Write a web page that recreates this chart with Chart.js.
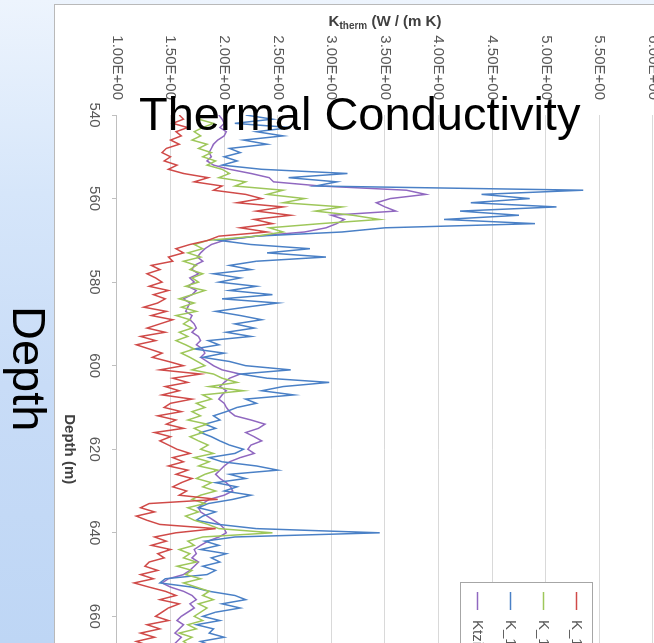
<!DOCTYPE html>
<html>
<head>
<meta charset="utf-8">
<title>Thermal Conductivity</title>
<script src="https://cdn.jsdelivr.net/npm/chart.js@4.4.1/dist/chart.umd.min.js"></script>
<style>
    html, body { margin: 0; padding: 0; }
    body {
        width: 654px; height: 643px; overflow: hidden; position: relative;
        background: linear-gradient(180deg, #edf4fd 0%, #d6e6fa 30%, #c8dcf7 60%, #bed6f5 100%);
        font-family: "Liberation Sans", Arial, sans-serif;
    }
    #panel {
        position: absolute; left: 54px; top: 4px; width: 820px; height: 820px;
        background: #fff; border: 1px solid #b9b9b9;
    }
    /* the Excel chart was pasted rotated a quarter turn clockwise */
    #rot {
        position: absolute; left: 55px; top: 5px; width: 800px; height: 640px;
        transform-origin: 0 0; transform: translate(640px, 0) rotate(90deg);
    }
    .slide-text { position: absolute; font-size: 47px; line-height: 47px; color: #000; white-space: nowrap; }
    #slideTitle { left: 139px; top: 90px; }
    #slideDepth { left: 53px; top: 306px; transform-origin: 0 0; transform: rotate(90deg); }
</style>
</head>
<body>
<div id="panel"></div>
<div id="rot"><canvas id="kChart" width="800" height="640"></canvas></div>
<div class="slide-text" id="slideTitle">Thermal Conductivity</div>
<div class="slide-text" id="slideDepth">Depth</div>

<script>
// Depth (m), one reading per metre
const depths = [
    540, 541, 542, 543, 544, 545, 546, 547, 548, 549,
    550, 551, 552, 553, 554, 555, 556, 557, 558, 559,
    560, 561, 562, 563, 564, 565, 566, 567, 568, 569,
    570, 571, 572, 573, 574, 575, 576, 577, 578, 579,
    580, 581, 582, 583, 584, 585, 586, 587, 588, 589,
    590, 591, 592, 593, 594, 595, 596, 597, 598, 599,
    600, 601, 602, 603, 604, 605, 606, 607, 608, 609,
    610, 611, 612, 613, 614, 615, 616, 617, 618, 619,
    620, 621, 622, 623, 624, 625, 626, 627, 628, 629,
    630, 631, 632, 633, 634, 635, 636, 637, 638, 639,
    640, 641, 642, 643, 644, 645, 646, 647, 648, 649,
    650, 651, 652, 653, 654, 655, 656, 657, 658, 659,
    660, 661, 662, 663, 664, 665, 666, 667, 668
];

// K_therm (W / (m K)) per series
const kRed = [
    1.58, 1.62, 1.52, 1.66, 1.55, 1.60, 1.50, 1.58, 1.46, 1.42,
    1.50, 1.44, 1.56, 1.48, 1.62, 1.85, 1.72, 1.98, 1.90, 2.20,
    2.35, 2.12, 2.55, 2.30, 2.62, 2.28, 2.45, 2.15, 2.40, 1.95,
    1.85, 1.68, 1.55, 1.62, 1.48, 1.52, 1.32, 1.40, 1.28, 1.36,
    1.42, 1.30, 1.48, 1.34, 1.45, 1.38, 1.25, 1.46, 1.32, 1.52,
    1.40, 1.28, 1.45, 1.22, 1.36, 1.18, 1.30, 1.42, 1.33, 1.48,
    1.62, 1.40, 1.78, 1.52, 1.66, 1.45, 1.58, 1.42, 1.70, 1.50,
    1.44, 1.60, 1.38, 1.55, 1.46, 1.62, 1.35, 1.50, 1.40, 1.48,
    1.56, 1.68, 1.52, 1.62, 1.48, 1.66, 1.55, 1.70, 1.60, 1.52,
    1.65, 1.58, 1.94, 1.30, 1.22, 1.35, 1.18, 1.28, 1.40, 1.92,
    1.55, 1.35, 1.46, 1.32, 1.50, 1.38, 1.44, 1.30, 1.26, 1.38,
    1.22, 1.34, 1.16, 1.30, 1.45, 1.55, 1.40, 1.58, 1.48, 1.42,
    1.36, 1.48, 1.28, 1.40, 1.22, 1.35, 1.18, 1.30, 1.25
];
const kGreen = [
    1.82, 1.76, 1.90, 1.80, 1.72, 1.78, 1.70, 1.84, 1.76, 1.88,
    1.80, 1.92, 1.84, 1.98, 2.05, 1.95, 2.20, 2.10, 2.55, 2.40,
    2.75, 2.55, 3.10, 2.85, 3.20, 3.45, 2.90, 2.42, 2.55, 2.30,
    1.85, 1.72, 1.80, 1.66, 1.78, 1.62, 1.74, 1.68, 1.80, 1.70,
    1.76, 1.64, 1.82, 1.70, 1.58, 1.72, 1.60, 1.74, 1.55, 1.68,
    1.62, 1.70, 1.58, 1.66, 1.55, 1.64, 1.72, 1.60, 1.68, 1.75,
    1.82, 1.70, 1.90, 1.98, 2.12, 1.86, 2.18, 1.80, 1.88, 1.74,
    1.82, 1.70, 1.78, 1.66, 1.84, 1.72, 1.80, 1.68, 1.76, 1.85,
    1.78, 1.90, 1.72, 1.86, 1.76, 1.94, 1.82, 1.74, 1.88, 1.80,
    1.92, 1.78, 1.70, 1.82, 1.66, 1.76, 1.64, 1.72, 1.85, 1.95,
    2.45, 1.80, 1.66, 1.72, 1.58, 1.68, 1.62, 1.74, 1.56, 1.70,
    1.64, 1.78, 1.62, 1.74, 1.86, 1.80, 1.90, 1.76, 1.84, 1.78,
    1.72, 1.80, 1.66, 1.74, 1.58, 1.70, 1.62, 1.68, 1.60
];
const kBlue = [
    2.20, 2.45, 2.10, 2.62, 2.30, 2.55, 2.18, 2.40, 2.05, 2.15,
    2.00, 2.12, 1.98, 2.35, 3.15, 2.60, 3.05, 2.85, 5.35, 4.40,
    4.85, 4.30, 5.10, 4.20, 4.75, 4.05, 4.90, 3.50, 3.10, 2.30,
    1.95, 2.25, 2.80, 2.40, 2.95, 2.30, 2.05, 2.25, 1.90, 2.15,
    1.95, 2.30, 2.05, 2.45, 1.98, 2.50, 2.20, 1.92, 2.15, 2.35,
    2.10, 2.28, 2.02, 2.25, 1.85, 1.95, 1.72, 2.00, 1.80, 2.05,
    2.20, 2.62, 2.15, 2.40, 2.98, 2.55, 2.35, 2.65, 2.20, 2.30,
    2.12, 2.02, 1.90, 1.96, 1.82, 1.92, 1.78, 1.88, 1.96, 2.05,
    2.18, 2.10, 1.86, 1.98, 2.30, 2.50, 2.05, 2.20, 1.92, 2.12,
    2.00, 2.25, 2.08, 1.85, 1.76, 1.92, 1.80, 1.74, 1.95, 2.30,
    3.45, 2.10, 1.82, 1.95, 1.78, 2.02, 1.88, 1.96, 1.80, 1.92,
    1.84, 1.45, 1.40, 1.70, 1.86, 2.10, 2.20, 1.98, 2.15, 1.92,
    1.80, 1.96, 1.74, 1.90, 1.86, 2.00, 1.78, 1.88, 1.82
];
const kTzi = [
    1.95, 1.98, 2.00, 1.96, 2.02, 2.00, 1.94, 1.90, 1.88, 1.86,
    1.88, 1.84, 1.90, 2.05, 2.25, 2.42, 2.46, 2.90, 3.70, 3.88,
    3.55, 3.42, 3.50, 3.60, 3.00, 3.12, 3.05, 2.95, 2.75, 2.30,
    2.00, 1.88, 1.82, 1.78, 1.75, 1.80, 1.72, 1.70, 1.76, 1.68,
    1.72, 1.66, 1.74, 1.70, 1.62, 1.68, 1.66, 1.64, 1.70, 1.68,
    1.72, 1.74, 1.70, 1.76, 1.78, 1.74, 1.80, 1.82, 1.78, 1.84,
    1.90, 1.98, 2.15, 2.05, 2.00, 1.96, 2.02, 1.98, 1.95, 2.00,
    2.02, 2.05, 2.10, 2.25, 2.38, 2.32, 2.20, 2.28, 2.35, 2.25,
    2.22, 2.28, 2.15, 2.05, 2.00, 1.96, 1.92, 1.96, 2.02, 2.06,
    2.08, 2.00, 1.86, 1.80, 1.76, 1.78, 1.84, 1.90, 1.96, 2.00,
    2.02, 1.95, 1.85, 1.78, 1.72, 1.74, 1.70, 1.76, 1.72, 1.68,
    1.62, 1.48, 1.42, 1.50, 1.62, 1.70, 1.74, 1.68, 1.72, 1.66,
    1.60, 1.56, 1.62, 1.58, 1.54, 1.60, 1.56, 1.52, 1.58
];

const seriesLabels = ['K_1a', 'K_1b', 'K_1c', 'Ktzi'];
const seriesColors = ['#d04a48', '#9ec75a', '#4a80c6', '#9068c0'];
const seriesValues = [kRed, kGreen, kBlue, kTzi];

const FONT = '"Liberation Sans", Arial, sans-serif';
Chart.defaults.font.family = FONT;

// 1.5 -> "1.50E+00", like the Excel axis
function sciLabel(v) {
    if (v === 0) return '0.00E+00';
    const e = Math.floor(Math.log10(Math.abs(v)) + 1e-9);
    const m = v / Math.pow(10, e);
    return m.toFixed(2) + 'E' + (e < 0 ? '-' : '+') + String(Math.abs(e)).padStart(2, '0');
}

// value axis title with the "therm" subscript
const kthermTitle = {
    id: 'kthermTitle',
    afterDraw(chart) {
        const ctx = chart.ctx;
        const yScale = chart.scales.y;
        const cy = (yScale.top + yScale.bottom) / 2;
        const big = 'bold 15px ' + FONT;
        const small = 'bold 10px ' + FONT;
        const parts = [['K', big, 0], ['therm', small, 4], [' (W / (m K)', big, 0]];
        ctx.save();
        ctx.translate(17, cy);
        ctx.rotate(-Math.PI / 2);
        let total = 0;
        parts.forEach(p => { ctx.font = p[1]; total += ctx.measureText(p[0]).width; });
        let x = -total / 2;
        ctx.fillStyle = '#404040';
        ctx.textBaseline = 'middle';
        parts.forEach(p => {
            ctx.font = p[1];
            ctx.fillText(p[0], x, p[2]);
            x += ctx.measureText(p[0]).width;
        });
        ctx.restore();
    }
};

// legend box laid over the plot area
const boxLegend = {
    id: 'boxLegend',
    afterDraw(chart, args, opts) {
        const ctx = chart.ctx;
        const sets = chart.data.datasets;
        const h = opts.rowHeight * sets.length;
        ctx.save();
        ctx.fillStyle = '#fff';
        ctx.fillRect(opts.left, opts.top, opts.width, h);
        ctx.strokeStyle = '#a6a6a6';
        ctx.lineWidth = 1;
        ctx.strokeRect(opts.left + 0.5, opts.top + 0.5, opts.width, h);
        ctx.font = '15px ' + FONT;
        ctx.textBaseline = 'middle';
        sets.forEach((ds, i) => {
            const cy = opts.top + opts.rowHeight * (i + 0.5);
            ctx.strokeStyle = ds.borderColor;
            ctx.lineWidth = 1.5;
            ctx.beginPath();
            ctx.moveTo(opts.left + 10, cy);
            ctx.lineTo(opts.left + 28, cy);
            ctx.stroke();
            ctx.fillStyle = '#595959';
            ctx.fillText(ds.label, opts.left + 38, cy);
        });
        ctx.restore();
    }
};

const datasets = seriesLabels.map((label, s) => ({
    label: label,
    data: depths.map((d, i) => ({ x: d, y: seriesValues[s][i] })),
    borderColor: seriesColors[s],
    backgroundColor: seriesColors[s],
    borderWidth: 1.5,
    pointRadius: 0,
    tension: 0,
    fill: false
}));

new Chart(document.getElementById('kChart'), {
    type: 'line',
    data: { datasets },
    plugins: [kthermTitle, boxLegend],
    options: {
        responsive: false,
        animation: false,
        devicePixelRatio: 1,
        layout: { padding: { top: 42, right: 21, left: 0, bottom: 0 } },
        plugins: {
            legend: { display: false },
            tooltip: { enabled: false },
            boxLegend: { left: 577, top: 102, width: 110, rowHeight: 33 }
        },
        scales: {
            x: {
                type: 'linear',
                position: 'bottom',
                min: 540,
                max: 700,
                ticks: { stepSize: 20, padding: 9, color: '#595959', font: { size: 15 } },
                grid: { drawOnChartArea: false, drawTicks: true, tickLength: 5, color: '#bfbfbf' },
                border: { display: true, color: '#bfbfbf' },
                title: {
                    display: true,
                    text: 'Depth (m)',
                    color: '#404040',
                    font: { size: 15, weight: 'bold' },
                    padding: { top: 0, bottom: 5 }
                },
                afterFit(scale) { scale.height = 62; }
            },
            y: {
                type: 'linear',
                min: 1,
                max: 6,
                ticks: { stepSize: 0.5, padding: 15, color: '#595959', font: { size: 15 }, callback: v => sciLabel(v) },
                grid: { color: '#d9d9d9', drawTicks: false },
                border: { display: false },
                afterFit(scale) { scale.width = 110; }
            }
        }
    }
});
</script>
</body>
</html>
